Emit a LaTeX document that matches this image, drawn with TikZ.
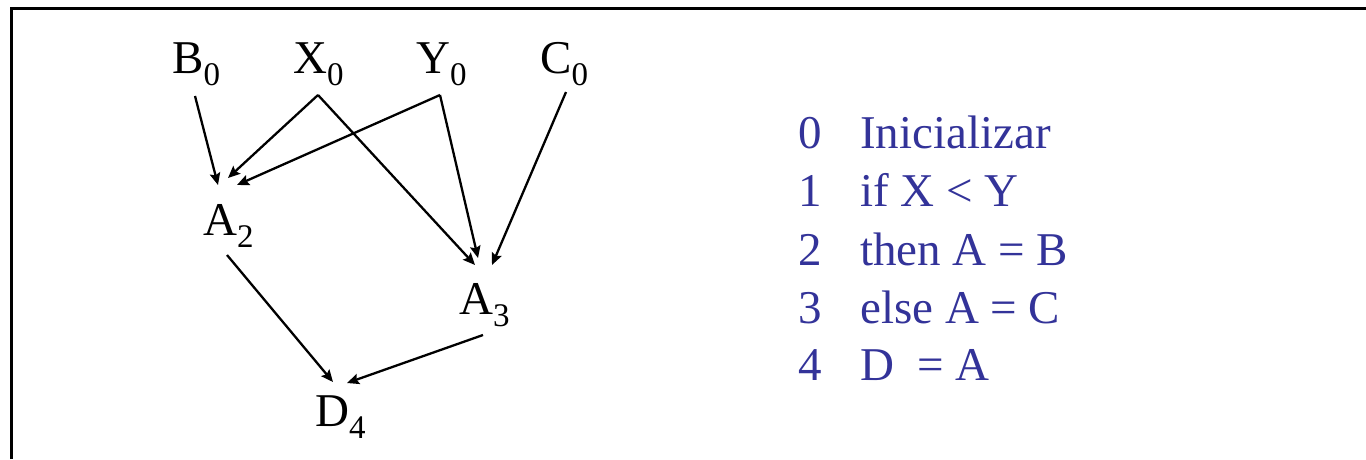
\documentclass[tikz,border=0pt]{standalone}
\usepackage{fontspec}
\setmainfont{Liberation Serif}
\usetikzlibrary{arrows.meta}
\definecolor{txtblue}{RGB}{51,51,153}
\newcommand{\mysub}[1]{\raisebox{-12pt}{\fontsize{33}{33}\selectfont #1}}
\tikzset{
  lbl/.style={anchor=base west, inner sep=0pt, font=\fontsize{47}{56}\selectfont},
  codeline/.style={anchor=base west, inner sep=0pt, text=txtblue, font=\fontsize{47}{56}\selectfont},
  edge/.style={line width=2.3pt, -{Stealth[length=12pt,width=10.5pt,inset=2pt]}},
  frame/.style={line width=3pt}
}
\begin{document}
\begin{tikzpicture}[x=1pt,y=1pt]
\useasboundingbox (0,0) rectangle (1366,-459);
\fill[white] (0,0) rectangle (1366,-459);
% frame
\draw[frame] (11.5,-459) -- (11.5,-8) -- (1366,-8);
% nodes
\node[lbl] (B0) at (172,-73) {B\mysub{0}};
\node[lbl] (X0) at (293,-73) {X\mysub{0}};
\node[lbl] (Y0) at (416,-73) {Y\mysub{0}};
\node[lbl] (C0) at (540,-73) {C\mysub{0}};
\node[lbl] (A2) at (203,-235) {A\mysub{2}};
\node[lbl] (A3) at (459,-314) {A\mysub{3}};
\node[lbl] (D4) at (315,-426) {D\mysub{4}};
% connection points
\coordinate (B0o) at (195,-96);
\coordinate (X0o) at (318,-95);
\coordinate (Y0o) at (440,-95);
\coordinate (C0o) at (566,-92);
\coordinate (A2a) at (218,-185);
\coordinate (A2b) at (228,-178);
\coordinate (A2c) at (237,-185);
\coordinate (A3a) at (475,-265);
\coordinate (A3b) at (478,-258);
\coordinate (A3c) at (492,-265);
\coordinate (A2o) at (227,-255);
\coordinate (A3o) at (483,-335);
\coordinate (D4a) at (333,-382);
\coordinate (D4b) at (347,-383);
% connectors
\draw[edge] (B0o) -- (A2a);
\draw[edge] (X0o) -- (A2b);
\draw[edge] (Y0o) -- (A2c);
\draw[edge] (X0o) -- (A3a);
\draw[edge] (Y0o) -- (A3b);
\draw[edge] (C0o) -- (A3c);
\draw[edge] (A2o) -- (D4a);
\draw[edge] (A3o) -- (D4b);
% code lines
\node[codeline] (n0) at (798,-148) {0};
\node[codeline] (n1) at (798,-206) {1};
\node[codeline] (n2) at (798,-265) {2};
\node[codeline] (n3) at (798,-323) {3};
\node[codeline] (n4) at (798,-380) {4};
\node[codeline] (l0) at (860,-148) {Inicializar};
\node[codeline] (l1) at (860,-206) {if X {\textless} Y};
\node[codeline] (l2) at (860,-265) {then A = B};
\node[codeline] (l3) at (860,-323) {else A = C};
\node[codeline] (l4) at (860,-380) {D\ \ = A};
\end{tikzpicture}
\end{document}
